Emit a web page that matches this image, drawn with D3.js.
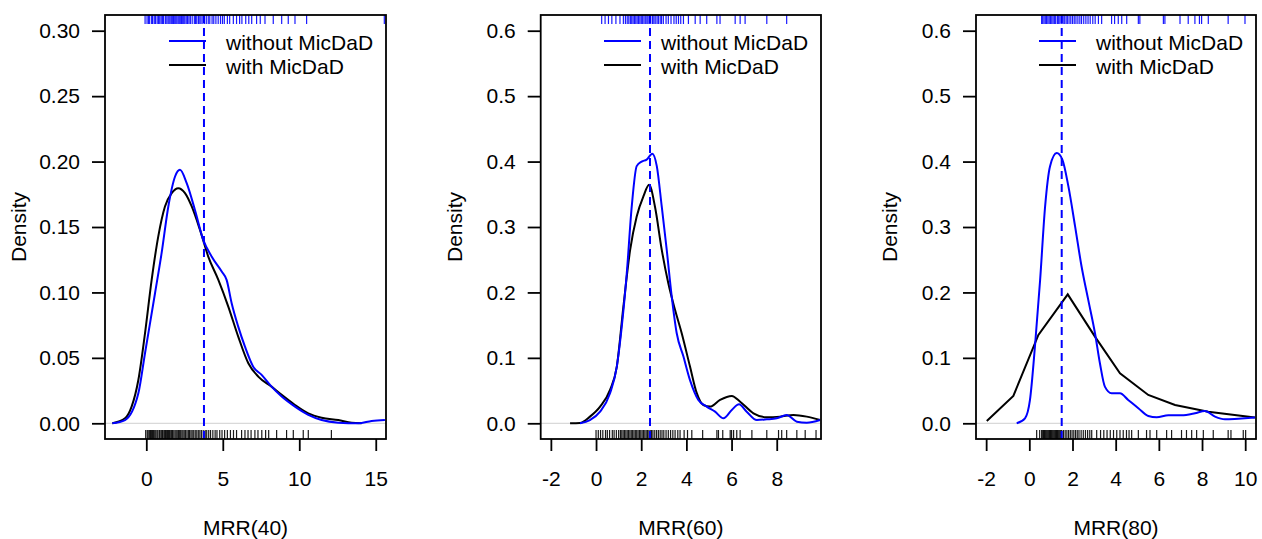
<!DOCTYPE html>
<html>
<head>
<meta charset="utf-8">
<script src="https://cdn.jsdelivr.net/npm/d3@7"></script>
<style>
  body { margin: 0; background: #fff; }
  text { font-family: "Liberation Sans", Arial, sans-serif; }
</style>
</head>
<body>
<svg id="chart" width="1262" height="539"></svg>
<script>
// density curves: [x, density]
var p1Without = [[-2.22,0],[-1.39,0.0025],[-0.52,0.0229],[-0.085,0.0535],[0.57,0.0994],[1.0,0.130],[1.44,0.1657],[1.88,0.1886],[2.2,0.1937],[2.64,0.1835],[3.18,0.163],[3.73,0.140],[4.27,0.1274],[4.93,0.116],[5.25,0.1096],[5.58,0.0918],[6.01,0.0739],[6.45,0.0586],[6.99,0.0433],[7.54,0.037],[8.19,0.028],[8.85,0.0204],[9.72,0.0127],[10.59,0.0064],[11.46,0.0025],[12.55,0.0005],[13.86,0],[14.73,0.0018],[15.6,0.0025]];
var p1With = [[-2.22,0],[-1.39,0.0038],[-0.96,0.0127],[-0.52,0.0331],[-0.085,0.0688],[0.35,0.1096],[0.78,0.1427],[1.22,0.1657],[1.66,0.1759],[2.09,0.1797],[2.53,0.1759],[2.97,0.1657],[3.51,0.1478],[4.05,0.1274],[4.71,0.1096],[5.36,0.0892],[6.01,0.0662],[6.67,0.0459],[7.32,0.0357],[8.19,0.028],[8.85,0.0217],[9.72,0.014],[10.59,0.0076],[11.46,0.0043],[12.55,0.0025],[13.42,0.0005],[14.08,0]];
var p2Without = [[-0.71,0],[-0.27,0.005],[0.18,0.0178],[0.62,0.046],[0.92,0.0867],[1.14,0.148],[1.36,0.229],[1.58,0.331],[1.80,0.393],[2.02,0.400],[2.24,0.403],[2.49,0.412],[2.69,0.393],[2.91,0.331],[3.13,0.265],[3.35,0.194],[3.57,0.138],[3.87,0.102],[4.16,0.066],[4.53,0.0357],[4.90,0.0255],[5.27,0.0178],[5.64,0.0076],[6.01,0.0204],[6.33,0.029],[6.67,0.0178],[7.12,0.005],[7.56,0.006],[8.0,0.0076],[8.44,0.0127],[8.89,0.0025],[9.33,0.001],[9.92,0.005]];
var p2With = [[-1.15,0],[-0.71,0.0005],[-0.27,0.0102],[0.18,0.0255],[0.62,0.051],[0.92,0.0867],[1.21,0.178],[1.51,0.265],[1.80,0.316],[2.10,0.347],[2.35,0.3645],[2.61,0.331],[2.91,0.265],[3.20,0.214],[3.50,0.173],[3.79,0.138],[4.16,0.0867],[4.46,0.046],[4.75,0.028],[5.05,0.0255],[5.49,0.0357],[6.01,0.0418],[6.38,0.033],[6.97,0.0153],[7.56,0.0092],[8.15,0.0102],[8.74,0.0127],[9.33,0.0102],[9.92,0.005]];
var p3Without = [[-0.585,0],[-0.2,0.0076],[0.03,0.0357],[0.26,0.117],[0.50,0.219],[0.73,0.331],[0.96,0.393],[1.27,0.413],[1.53,0.403],[1.81,0.362],[2.12,0.301],[2.42,0.2396],[2.73,0.1886],[3.04,0.138],[3.27,0.0918],[3.50,0.056],[3.81,0.0459],[4.2,0.0459],[4.58,0.0357],[5.05,0.023],[5.51,0.0112],[5.90,0.0092],[6.44,0.0122],[7.05,0.0122],[7.67,0.0153],[8.13,0.0189],[8.6,0.0102],[9.06,0.0061],[9.68,0.0071],[10.45,0.0087]];
var p3With = [[-1.97,0.0035],[-0.74,0.0418],[0.42,0.135],[1.78,0.197],[3.04,0.1325],[4.2,0.0765],[5.51,0.0433],[6.75,0.028],[8.29,0.0178],[10.45,0.0087]];

// rug marks (observations)
var p1RugWithout = [-0.08,0.05,0.15,0.22,0.35,0.41,0.52,0.6,0.71,0.8,0.88,0.97,1.05,1.12,1.24,1.3,1.41,1.48,1.55,1.63,1.7,1.78,1.86,1.93,2.0,2.08,2.15,2.22,2.3,2.38,2.45,2.52,2.61,2.7,2.79,2.88,3.0,3.14,3.22,3.3,3.41,3.5,3.58,3.7,3.8,3.92,4.05,4.15,4.3,4.41,4.55,4.7,4.85,4.98,5.1,5.3,5.45,5.69,5.9,6.1,6.25,6.5,6.7,6.89,7.21,7.45,7.76,8.3,8.85,9.28,9.72,10.48,15.56];
var p1RugWith = [-0.04,0.06,0.12,0.2,0.28,0.33,0.4,0.47,0.55,0.62,0.7,0.76,0.85,0.9,0.98,1.05,1.1,1.18,1.25,1.31,1.38,1.45,1.52,1.6,1.66,1.72,1.8,1.88,1.95,2.02,2.1,2.18,2.25,2.33,2.4,2.48,2.57,2.66,2.75,2.83,2.92,3.0,3.1,3.2,3.3,3.4,3.5,3.6,3.72,3.85,3.95,4.08,4.2,4.35,4.5,4.62,4.8,4.95,5.12,5.3,5.5,5.7,5.9,6.23,6.45,6.65,6.85,7.1,7.3,7.55,7.8,8.0,8.52,9.17,9.61,10.26,10.59,12.1];
var p2RugWithout = [0.25,0.4,0.55,0.7,0.88,1.06,1.21,1.3,1.38,1.45,1.52,1.58,1.64,1.7,1.76,1.82,1.88,1.94,2.0,2.05,2.12,2.18,2.25,2.3,2.36,2.42,2.5,2.56,2.62,2.7,2.76,2.84,2.9,2.98,3.1,3.2,3.32,3.45,3.55,3.65,3.75,3.87,4.09,4.39,4.61,4.9,5.35,5.49,6.16,6.38,6.6,7.56,8.44];
var p2RugWith = [0.0,0.1,0.2,0.3,0.42,0.5,0.6,0.72,0.8,0.9,1.0,1.08,1.14,1.2,1.26,1.32,1.38,1.44,1.5,1.56,1.62,1.68,1.74,1.8,1.86,1.92,1.98,2.04,2.1,2.16,2.22,2.28,2.34,2.4,2.46,2.52,2.6,2.68,2.76,2.84,2.92,3.0,3.1,3.2,3.3,3.4,3.5,3.62,3.72,3.9,4.05,4.24,4.72,5.35,5.42,5.61,5.94,6.0,6.09,6.23,6.38,6.9,7.56,8.08,8.22,8.44,8.89,9.26,9.74];
var p3RugWithout = [0.57,0.62,0.68,0.74,0.8,0.86,0.92,0.98,1.04,1.1,1.16,1.22,1.3,1.36,1.42,1.5,1.56,1.62,1.7,1.76,1.84,1.92,2.0,2.08,2.16,2.25,2.34,2.42,2.52,2.62,2.72,2.82,2.94,3.05,3.2,3.35,3.81,3.95,4.12,4.28,4.51,5.05,5.12,6.21,6.28,6.98,7.36,7.67,7.88,7.98,8.29,9.21,9.99];
var p3RugWith = [0.34,0.48,0.57,0.62,0.66,0.7,0.74,0.78,0.82,0.86,0.9,0.94,0.98,1.02,1.06,1.1,1.14,1.18,1.22,1.26,1.3,1.34,1.38,1.42,1.46,1.5,1.58,1.66,1.74,1.82,1.9,1.98,2.06,2.14,2.22,2.3,2.4,2.5,2.6,2.7,2.8,2.89,3.12,3.3,3.45,3.6,3.75,3.9,4.05,4.2,4.35,4.5,4.62,4.74,5.05,5.43,5.59,5.9,6.36,6.59,7.05,7.28,7.52,7.75,8.06,8.52,9.21,9.34,9.91,10.02];

var cutoffs = [3.77, 2.39, 1.5];
var xLabels = ["MRR(40)", "MRR(60)", "MRR(80)"];
var xTicks = [[0,5,10,15], [-2,0,2,4,6,8], [-2,0,2,4,6,8,10]];
var yTicks = [[0,0.05,0.1,0.15,0.2,0.25,0.3], [0,0.1,0.2,0.3,0.4,0.5,0.6], [0,0.1,0.2,0.3,0.4,0.5,0.6]];
var yFormats = [".2f", ".1f", ".1f"];
var seriesNames = ["without MicDaD", "with MicDaD"];
var seriesColors = ["#0000ff", "#000000"];

// layout
var plotTop = 15, plotBottom = 439;
var lefts = [105, 540.7, 976], rights = [386, 821, 1256];
var xDomains = [[-2.70, 15.67], [-2.45, 9.96], [-2.47, 10.5]];
var yDomains = [[-0.012, 0.312], [-0.024, 0.624], [-0.024, 0.624]];
var fontSize = 21;

// R style hyphen minus
var loc = d3.formatLocale({decimal: ".", thousands: ",", grouping: [3], currency: ["", ""], minus: "-"});

var panels = [
  {without: p1Without, with: p1With, rugW: p1RugWithout, rugB: p1RugWith, linear: false},
  {without: p2Without, with: p2With, rugW: p2RugWithout, rugB: p2RugWith, linear: false},
  {without: p3Without, with: p3With, rugW: p3RugWithout, rugB: p3RugWith, linear: true}
];

var svg = d3.select("#chart");
svg.append("rect").attr("width", 1262).attr("height", 539).attr("fill", "#fff");

panels.forEach(function (p, i) {
  var x = d3.scaleLinear().domain(xDomains[i]).range([lefts[i], rights[i]]);
  var y = d3.scaleLinear().domain(yDomains[i]).range([plotBottom, plotTop]);
  var g = svg.append("g");

  var clipId = "clip" + i;
  svg.append("clipPath").attr("id", clipId)
    .append("rect").attr("x", lefts[i]).attr("y", plotTop)
    .attr("width", rights[i] - lefts[i]).attr("height", plotBottom - plotTop);

  var plot = g.append("g").attr("clip-path", "url(#" + clipId + ")");

  // zero line
  plot.append("line")
    .attr("x1", lefts[i]).attr("x2", rights[i])
    .attr("y1", y(0)).attr("y2", y(0))
    .attr("stroke", "#cfcfcf").attr("stroke-width", 1);

  // rugs
  plot.selectAll(".rugTop").data(p.rugW).enter().append("line")
    .attr("x1", function (d) { return x(d); }).attr("x2", function (d) { return x(d); })
    .attr("y1", plotTop).attr("y2", plotTop + 9)
    .attr("stroke", "#0000ff").attr("stroke-width", 1.2).attr("stroke-opacity", 0.9);
  plot.selectAll(".rugBot").data(p.rugB).enter().append("line")
    .attr("x1", function (d) { return x(d); }).attr("x2", function (d) { return x(d); })
    .attr("y1", plotBottom - 9).attr("y2", plotBottom)
    .attr("stroke", "#000").attr("stroke-width", 1.2).attr("stroke-opacity", 0.9);

  var smooth = d3.line().x(function (d) { return x(d[0]); }).y(function (d) { return y(d[1]); })
    .curve(d3.curveMonotoneX);
  var straight = d3.line().x(function (d) { return x(d[0]); }).y(function (d) { return y(d[1]); });

  plot.append("path").attr("d", (p.linear ? straight : smooth)(p.with))
    .attr("fill", "none").attr("stroke", seriesColors[1]).attr("stroke-width", 2);
  plot.append("path").attr("d", smooth(p.without))
    .attr("fill", "none").attr("stroke", seriesColors[0]).attr("stroke-width", 2);

  // cutoff
  plot.append("line")
    .attr("x1", x(cutoffs[i])).attr("x2", x(cutoffs[i]))
    .attr("y1", plotTop).attr("y2", plotBottom)
    .attr("stroke", "#0000ff").attr("stroke-width", 2).attr("stroke-dasharray", "8,5");

  // axes
  var xa = g.append("g").attr("transform", "translate(0," + plotBottom + ")")
    .call(d3.axisBottom(x).tickValues(xTicks[i]).tickSize(12).tickPadding(20).tickFormat(loc.format("d")));
  var ya = g.append("g").attr("transform", "translate(" + lefts[i] + ",0)")
    .call(d3.axisLeft(y).tickValues(yTicks[i]).tickSize(13).tickPadding(12).tickFormat(loc.format(yFormats[i])));
  [xa, ya].forEach(function (a) {
    a.select(".domain").remove();
    a.attr("font-size", fontSize).attr("font-family", "Liberation Sans, Arial, sans-serif");
    a.selectAll("line").attr("stroke", "#000").attr("stroke-width", 1.8);
    a.selectAll("text").attr("fill", "#000");
  });

  // box
  g.append("rect")
    .attr("x", lefts[i]).attr("y", plotTop)
    .attr("width", rights[i] - lefts[i]).attr("height", plotBottom - plotTop)
    .attr("fill", "none").attr("stroke", "#000").attr("stroke-width", 1.8);

  // labels
  g.append("text")
    .attr("x", (lefts[i] + rights[i]) / 2).attr("y", 535)
    .attr("text-anchor", "middle").attr("font-size", fontSize)
    .text(xLabels[i]);
  g.append("text")
    .attr("transform", "translate(" + (lefts[i] - 79) + "," + ((plotTop + plotBottom) / 2) + ") rotate(-90)")
    .attr("text-anchor", "middle").attr("font-size", fontSize)
    .text("Density");

  // legend
  seriesNames.forEach(function (name, k) {
    var ly = 41 + k * 24;
    g.append("line")
      .attr("x1", rights[i] - 217).attr("x2", rights[i] - 180)
      .attr("y1", ly).attr("y2", ly)
      .attr("stroke", seriesColors[k]).attr("stroke-width", 2);
    g.append("text")
      .attr("x", rights[i] - 160).attr("y", ly + 8.5)
      .attr("font-size", fontSize)
      .text(name);
  });
});
</script>
</body>
</html>
